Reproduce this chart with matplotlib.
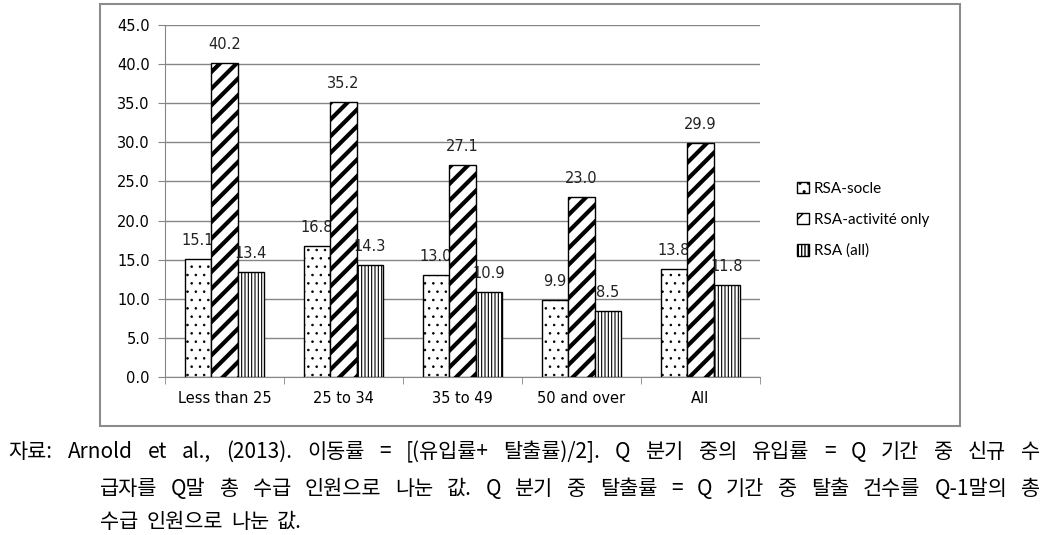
import numpy as np
import matplotlib.pyplot as plt
from matplotlib.patches import Rectangle

# Données
categories = ["Less than 25", "25 to 34", "35 to 49", "50 and over", "All"]
series_names = ["RSA-socle", "RSA-activité only", "RSA (all)"]
socle = [15.1, 16.8, 13.0, 9.9, 13.8]
activite = [40.2, 35.2, 27.1, 23.0, 29.9]
rsa_all = [13.4, 14.3, 10.9, 8.5, 11.8]
y_ticks = np.arange(0, 45.1, 5)

caption_lines = [
    "Arnold et al., (2013). 이동률 = [(유입률+ 탈출률)/2]. Q 분기 중의 유입률 = Q 기간 중 신규 수",
    "급자를 Q말 총 수급 인원으로 나눈 값. Q 분기 중 탈출률 = Q 기간 중 탈출 건수를 Q-1말의 총",
    "수급 인원으로 나눈 값.",
]

fig = plt.figure(figsize=(10.49, 5.35), dpi=100)
ax = fig.add_axes([165 / 1049, 1 - 377 / 535, 595 / 1049, 352 / 535])

x = np.arange(len(categories))
w = 1 / 4.5
styles = [
    (socle, "..", 0.6),
    (activite, "//", 3.0),
    (rsa_all, "|||||", 0.8),
]
offsets = [-w, 0, w]
handles = []
for (vals, hatch, hlw), off, name in zip(styles, offsets, series_names):
    with plt.rc_context({"hatch.linewidth": hlw, "hatch.color": "black"}):
        bars = ax.bar(x + off, vals, width=w, facecolor="white", edgecolor="black",
                      linewidth=1.0, hatch=hatch, label=name, zorder=3)
    handles.append(bars)
    for xi, v in zip(x + off, vals):
        ax.text(xi, v + 1.4, f"{v:.1f}", ha="center", va="bottom", fontsize=10.5,
                color="#222222")

ax.set_xlim(-0.5, len(categories) - 0.5)
ax.set_ylim(0, 45)
ax.set_yticks(y_ticks)
ax.set_yticklabels([f"{t:.1f}" for t in y_ticks], fontsize=10.5)
ax.set_xticks(x)
ax.set_xticklabels(categories, fontsize=10.5)
ax.set_xticks(np.arange(-0.5, len(categories), 1), minor=True)
ax.tick_params(axis="x", which="major", length=0, pad=10)
ax.tick_params(axis="x", which="minor", length=5, color="#868686")
ax.tick_params(axis="y", length=5, color="#868686", pad=6)
ax.grid(axis="y", color="#868686", linewidth=1.0, zorder=0)
for s in ["top", "right"]:
    ax.spines[s].set_visible(False)
for s in ["left", "bottom"]:
    ax.spines[s].set_color("#868686")

leg = fig.legend(handles=handles, loc="upper left", bbox_to_anchor=(783 / 1049, 1 - 168 / 535),
                 frameon=False, handlelength=0.8, handleheight=0.8,
                 handletextpad=0.3, labelspacing=1.1, prop={"family": "Lato", "size": 11})

# Cadre du graphique
fig.patches.append(Rectangle((100 / 1049, 1 - 426 / 535), 860 / 1049, 422 / 535,
                             transform=fig.transFigure, fill=False,
                             edgecolor="#8c8c8c", linewidth=1.5))

# Note en coréen, justifiée
kfont = {"family": ["Noto Sans CJK KR", "DejaVu Sans"], "size": 15}
fig.text(8 / 1049, 1 - 452 / 535, "자료:", va="center", ha="left", fontdict=kfont)
renderer = fig.canvas.get_renderer()
line_specs = [(68, 1040, 452), (100, 1040, 489), (100, None, 522)]
for line, (x0, x1, yy) in zip(caption_lines, line_specs):
    words = line.split(" ")
    texts = [fig.text(0, 1 - yy / 535, wd, va="center", ha="left", fontdict=kfont) for wd in words]
    widths = [t.get_window_extent(renderer).width for t in texts]
    if x1 is None:
        gap = 8
    else:
        gap = (x1 - x0 - sum(widths)) / (len(words) - 1)
    pos = x0
    for t, wd in zip(texts, widths):
        t.set_x(pos / 1049)
        pos += wd + gap

fig.savefig("out.png", dpi=100)
